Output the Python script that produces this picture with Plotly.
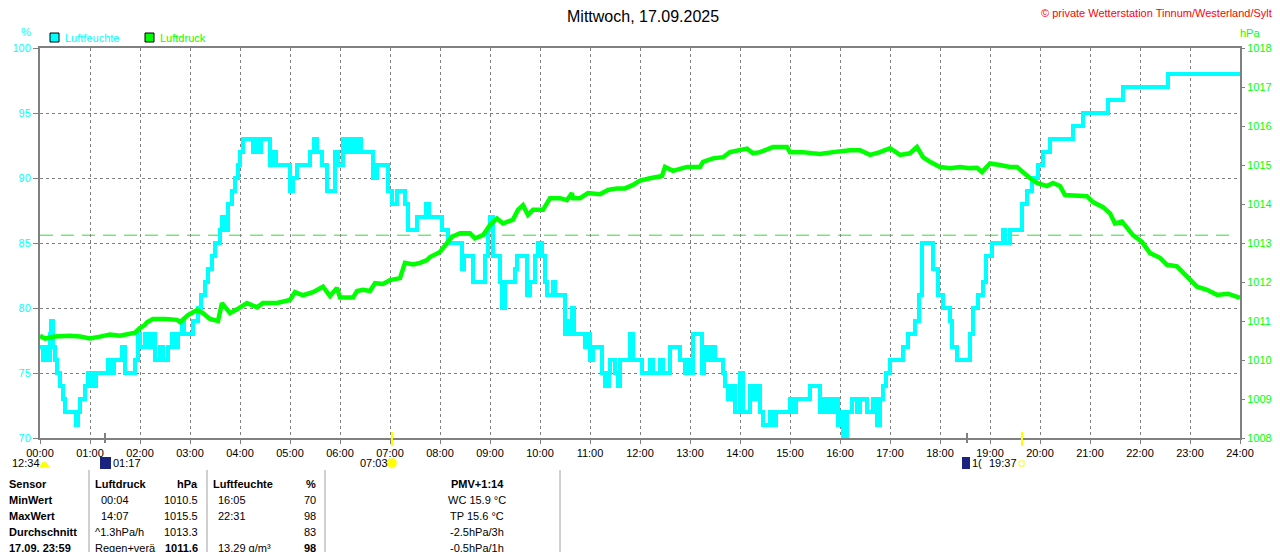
import plotly.graph_objects as go

# Luftfeuchte (%), Stufenverlauf: Stunde, Wert
hum_h = [0.0, 0.06, 0.1, 0.14, 0.2, 0.22, 0.26, 0.3, 0.34, 0.4, 0.46, 0.5, 0.72, 0.76, 0.8, 0.9,
         0.96, 1.0, 1.04, 1.08, 1.12, 1.24, 1.36, 1.44, 1.48, 1.64, 1.7, 1.9, 1.96, 2.0, 2.1, 2.16,
         2.22, 2.3, 2.4, 2.46, 2.56, 2.64, 2.72, 2.76, 2.84, 2.88, 3.06, 3.16, 3.22, 3.3, 3.36, 3.44,
         3.5, 3.6, 3.64, 3.7, 3.76, 3.84, 3.9, 3.96, 4.0, 4.06, 4.26, 4.32, 4.38, 4.42, 4.6, 4.68,
         4.72, 5.0, 5.06, 5.14, 5.4, 5.48, 5.54, 5.64, 5.74, 5.9, 5.96, 6.06, 6.14, 6.2, 6.28, 6.34,
         6.42, 6.66, 6.74, 6.96, 7.04, 7.14, 7.3, 7.36, 7.54, 7.72, 7.78, 8.04, 8.16, 8.44, 8.48,
         8.66, 8.9, 8.96, 9.0, 9.06, 9.2, 9.24, 9.3, 9.5, 9.54, 9.74, 9.8, 9.9, 9.96, 10.04, 10.1,
         10.14, 10.26, 10.3, 10.5, 10.56, 10.62, 10.64, 10.68, 10.9, 10.96, 11.0, 11.06, 11.24,
         11.3, 11.38, 11.4, 11.5, 11.56, 11.6, 11.8, 11.86, 12.04, 12.2, 12.26, 12.4, 12.46, 12.6,
         12.8, 12.9, 12.96, 13.04, 13.06, 13.24, 13.28, 13.36, 13.44, 13.5, 13.66, 13.7, 13.76,
         13.84, 13.9, 14.0, 14.06, 14.2, 14.26, 14.34, 14.4, 14.46, 14.6, 14.66, 14.72, 14.9, 15.0,
         15.06, 15.12, 15.34, 15.4, 15.6, 15.64, 15.7, 15.76, 15.84, 15.9, 15.96, 16.04, 16.06,
         16.14, 16.24, 16.34, 16.4, 16.54, 16.66, 16.74, 16.8, 16.86, 16.92, 17.0, 17.14, 17.26,
         17.36, 17.5, 17.58, 17.64, 17.86, 17.96, 18.06, 18.2, 18.24, 18.34, 18.5, 18.6, 18.66,
         18.76, 18.86, 18.92, 19.04, 19.26, 19.3, 19.4, 19.64, 19.74, 19.84, 19.96, 20.06, 20.2,
         20.66, 20.86, 21.36, 21.66, 22.56, 24.0]
hum_v = [77, 76, 77, 76, 78, 79, 77, 76, 75, 74, 73, 72, 71, 72, 73, 74,
         75, 74, 75, 74, 75, 75, 76, 75, 76, 77, 75, 76, 78, 77, 78, 77,
         78, 76, 77, 76, 77, 78, 77, 78, 79, 78, 79, 80, 81, 82, 83, 84,
         85, 86, 87, 86, 88, 89, 90, 91, 92, 93, 92, 93, 92, 93, 91, 92,
         91, 89, 90, 91, 92, 93, 92, 91, 89, 92, 91, 93, 92, 93, 92, 93,
         92, 90, 91, 89, 88, 89, 88, 86, 87, 88, 87, 86, 85, 83, 84,
         82, 84, 86, 87, 84, 82, 80, 82, 83, 84, 81, 82, 84, 85, 84, 82,
         81, 82, 81, 78, 79, 78, 80, 78, 77, 78, 76, 77, 75,
         74, 75, 76, 75, 74, 76, 78, 76, 75, 76, 75, 76, 75, 77,
         76, 75, 76, 75, 78, 75, 77, 76, 77, 76, 75, 74, 73,
         74, 72, 75, 72, 74, 73, 74, 72, 71, 72, 71, 72, 72, 73,
         72, 73, 73, 74, 72, 73, 72, 73, 72, 73, 71, 72, 70,
         72, 73, 72, 73, 72, 73, 71, 73, 74, 75, 76, 76, 77,
         78, 79, 81, 85, 83, 81, 80, 79, 77, 76, 76, 78, 80,
         81, 82, 84, 85, 86, 85, 86, 88, 89, 90, 91, 92, 93,
         94, 95, 96, 97, 98, 98]

# Luftdruck (hPa)
pres_h = [0.0, 0.1, 0.3, 0.6, 0.8, 1.0, 1.2, 1.4, 1.6, 1.8, 1.9, 2.0, 2.1, 2.14, 2.26, 2.5,
          2.74, 2.8, 2.96, 3.14, 3.26, 3.4, 3.56, 3.64, 3.8, 3.94, 4.14, 4.34, 4.46, 4.74, 5.0,
          5.1, 5.26, 5.46, 5.66, 5.8, 5.94, 6.0, 6.26, 6.34, 6.46, 6.6, 6.7, 6.86, 7.0, 7.2, 7.3,
          7.46, 7.6, 7.74, 7.8, 8.0, 8.14, 8.24, 8.4, 8.6, 8.7, 8.86, 9.0, 9.14, 9.26, 9.46, 9.56,
          9.66, 9.76, 9.86, 10.06, 10.2, 10.4, 10.54, 10.64, 10.66, 10.8, 10.96, 11.2, 11.36,
          11.54, 11.7, 11.86, 12.0, 12.2, 12.34, 12.44, 12.5, 12.66, 12.8, 12.94, 13.2, 13.26,
          13.46, 13.66, 13.8, 14.06, 14.14, 14.26, 14.4, 14.66, 14.94, 15.0, 15.26, 15.44, 15.6,
          15.86, 16.0, 16.2, 16.4, 16.6, 16.8, 17.0, 17.2, 17.4, 17.54, 17.66, 17.8, 18.0, 18.2,
          18.4, 18.6, 18.74, 18.84, 19.0, 19.2, 19.4, 19.54, 19.66, 19.8, 19.94, 20.14, 20.26,
          20.4, 20.5, 20.74, 20.94, 21.06, 21.26, 21.4, 21.5, 21.64, 21.74, 21.86, 22.04, 22.2,
          22.4, 22.54, 22.74, 22.94, 23.14, 23.34, 23.54, 23.76, 24.0]
pres_v = [1010.62, 1010.55, 1010.6, 1010.62, 1010.6, 1010.55, 1010.6, 1010.65, 1010.62, 1010.68,
          1010.7, 1010.82, 1010.9, 1010.97, 1011.05, 1011.05, 1011.03, 1010.97, 1011.15, 1011.28,
          1011.2, 1011.05, 1011.0, 1011.46, 1011.2, 1011.3, 1011.46, 1011.35, 1011.46, 1011.46,
          1011.54, 1011.74, 1011.66, 1011.74, 1011.88, 1011.64, 1011.85, 1011.6, 1011.6, 1011.77,
          1011.8, 1011.77, 1011.97, 1011.95, 1012.05, 1012.1, 1012.49, 1012.45, 1012.49, 1012.56,
          1012.64, 1012.77, 1013.0, 1013.16, 1013.25, 1013.25, 1013.12, 1013.2, 1013.46, 1013.63,
          1013.5, 1013.6, 1013.85, 1013.97, 1013.72, 1013.85, 1013.85, 1014.15, 1014.15, 1014.1,
          1014.28, 1014.15, 1014.15, 1014.28, 1014.25, 1014.36, 1014.4, 1014.4, 1014.49, 1014.6,
          1014.66, 1014.7, 1014.72, 1014.95, 1014.85, 1014.9, 1014.95, 1014.95, 1015.08, 1015.17,
          1015.2, 1015.33, 1015.4, 1015.42, 1015.3, 1015.33, 1015.46, 1015.46, 1015.33, 1015.33,
          1015.3, 1015.28, 1015.33, 1015.36, 1015.38, 1015.38, 1015.26, 1015.33, 1015.43, 1015.26,
          1015.3, 1015.46, 1015.2, 1015.08, 1014.95, 1014.92, 1014.95, 1014.92, 1014.93, 1014.82,
          1015.04, 1015.0, 1014.95, 1014.95, 1014.8, 1014.66, 1014.54, 1014.46, 1014.54, 1014.46,
          1014.23, 1014.22, 1014.2, 1014.05, 1013.92, 1013.76, 1013.5, 1013.55, 1013.41, 1013.2,
          1013.03, 1012.74, 1012.62, 1012.44, 1012.4, 1012.13, 1011.88, 1011.8, 1011.67, 1011.7,
          1011.59]

pres_mean_line = 1013.2

hour_ticks = list(range(0, 25))
hour_labels = [f"{h:02d}:00" for h in hour_ticks]
hum_ticks = [70, 75, 80, 85, 90, 95, 100]
pres_ticks = list(range(1008, 1019))

# Tabelle unter dem Diagramm
table_rows = ["Sensor", "MinWert", "MaxWert", "Durchschnitt", "17.09. 23:59"]
druck_left = ["Luftdruck", "00:04", "14:07", "^1.3hPa/h", "Regen+ver\u00e4"]
druck_right = ["hPa", "1010.5", "1015.5", "1013.3", "1011.6"]
feuchte_left = ["Luftfeuchte", "16:05", "22:31", "", "13.29 g/m\u00b3"]
feuchte_right = ["%", "70", "98", "83", "98"]
extra_col = ["PMV+1:14", "WC 15.9 \u00b0C", "TP 15.6 \u00b0C", "-2.5hPa/3h", "-0.5hPa/1h"]

FONT = "Liberation Sans"
FS = 11
CYAN = "#00FFFF"
GREEN = "#00FF00"
GRAY = "#808080"

# die Seite hat 8px Rand; Figur entsprechend kleiner und verschoben
OFF = 8
W, H = 1280 - OFF, 552 - OFF
L, R, T, B = 40, 1240, 48, 438   # Bildschirm-Pixel der Zeichenflaeche


def px(x):
    return (x - L) / (R - L)


def py(y):
    return (B - y) / (B - T)


fig = go.Figure()

fig.add_trace(go.Scatter(
    x=pres_h, y=pres_v, yaxis="y2", mode="lines",
    line=dict(color=GREEN, width=4.5), name="Luftdruck", hoverinfo="x+y"
))
fig.add_trace(go.Scatter(
    x=hum_h, y=hum_v, mode="lines", line_shape="hv",
    line=dict(color=CYAN, width=4), name="Luftfeuchte", hoverinfo="x+y"
))

shapes = [
    dict(type="line", xref="x", yref="y2", x0=0, x1=23.8, y0=pres_mean_line, y1=pres_mean_line,
         line=dict(color="#33DD33", width=1, dash="13px,8px"), layer="below"),
    # Legende
    dict(type="rect", xref="paper", yref="paper", x0=px(50), x1=px(59), y0=py(42), y1=py(33),
         fillcolor=CYAN, line=dict(color="black", width=1)),
    dict(type="rect", xref="paper", yref="paper", x0=px(145), x1=px(154), y0=py(42), y1=py(33),
         fillcolor=GREEN, line=dict(color="black", width=1)),
    # Mond-/Sonnenmarken an der Zeitachse
    dict(type="line", xref="paper", yref="paper", x0=px(105), x1=px(105), y0=py(433), y1=py(443),
         line=dict(color=GRAY, width=2)),
    dict(type="line", xref="paper", yref="paper", x0=px(392), x1=px(392), y0=py(432), y1=py(446),
         line=dict(color="#FFFF00", width=2)),
    dict(type="line", xref="paper", yref="paper", x0=px(967), x1=px(967), y0=py(433), y1=py(443),
         line=dict(color=GRAY, width=2)),
    dict(type="line", xref="paper", yref="paper", x0=px(1022), x1=px(1022), y0=py(432), y1=py(446),
         line=dict(color="#FFFF00", width=2)),
    # Symbole
    dict(type="path", xref="paper", yref="paper",
         path=f"M {px(40)} {py(467)} Q {px(44)} {py(457)} {px(49)} {py(467)} Z",
         fillcolor="#FFFF00", line=dict(color="#FFFF00", width=1)),
    dict(type="rect", xref="paper", yref="paper", x0=px(100), x1=px(111), y0=py(469), y1=py(457),
         fillcolor="#1A237E", line=dict(width=0)),
    dict(type="circle", xref="paper", yref="paper", x0=px(387), x1=px(397), y0=py(468), y1=py(458),
         fillcolor="#FFFF00", line=dict(color="#FFF59D", width=1)),
    dict(type="rect", xref="paper", yref="paper", x0=px(962), x1=px(970), y0=py(469), y1=py(457),
         fillcolor="#1A237E", line=dict(width=0)),
    dict(type="rect", xref="paper", yref="paper", x0=px(1019), x1=px(1024), y0=py(466), y1=py(461),
         fillcolor="white", line=dict(color="#FFFF00", width=1)),
]

for sx in [89, 207, 325, 560, 1277]:
    shapes.append(dict(type="line", xref="paper", yref="paper", x0=px(sx), x1=px(sx),
                       y0=py(470), y1=py(552), line=dict(color="#A0A0A0", width=1)))

ann = []


def txt(x, y, s, color="black", size=FS, anchor="left", bold=False):
    if bold:
        s = f"<b>{s}</b>"
    ann.append(dict(x=px(x), y=py(y), xref="paper", yref="paper", text=s, showarrow=False,
                    xanchor=anchor, yanchor="middle", font=dict(family=FONT, size=size, color=color)))


txt(643, 16, "Mittwoch, 17.09.2025", size=16, anchor="center")
txt(1274, 13, "\u00a9 private Wetterstation Tinnum/Westerland/Sylt", color="#FF0000", anchor="right")
txt(26, 32, "%", color=CYAN, anchor="center")
txt(1250, 33, "hPa", color=GREEN, anchor="center")
txt(63, 38, "Luftfeuchte", color=CYAN)
txt(158, 38, "Luftdruck", color=GREEN)

txt(10, 463, "12:34")
txt(111, 463, "01:17")
txt(358, 463, "07:03")
txt(970, 463, "1(")
txt(987, 463, "19:37")

row_y = [484, 500, 516, 532, 548]
for i, y in enumerate(row_y):
    txt(7, y, table_rows[i], bold=True)
    txt(93 if i == 0 else 99 if i < 3 else 93, y, druck_left[i], bold=(i == 0))
    txt(200, y, druck_right[i], anchor="right", bold=(i in (0, 4)))
    txt(211 if i == 0 else 216, y, feuchte_left[i], bold=(i == 0))
    txt(318, y, feuchte_right[i], anchor="right", bold=(i in (0, 4)))
    txt(477, y, extra_col[i], anchor="center", bold=(i == 0))

fig.update_layout(
    width=W, height=H,
    margin=dict(l=L - OFF, r=W - (R - OFF), t=T - OFF, b=H - (B - OFF), autoexpand=False),
    paper_bgcolor="white", plot_bgcolor="white",
    showlegend=False,
    font=dict(family=FONT, size=FS),
    xaxis=dict(range=[0, 24], tickvals=hour_ticks, ticktext=hour_labels, automargin=False,
               showgrid=True, gridcolor=GRAY, griddash="3px,3px", gridwidth=1,
               showline=True, linecolor=GRAY, linewidth=2, mirror=True,
               ticks="outside", ticklen=4, tickcolor=GRAY, tickfont=dict(color="black", size=FS),
               zeroline=False),
    yaxis=dict(range=[70, 100], tickvals=hum_ticks, ticktext=[str(v) for v in hum_ticks],
               automargin=False,
               showgrid=True, gridcolor=GRAY, griddash="3px,3px", gridwidth=1,
               showline=True, linecolor=GRAY, linewidth=2, mirror=True,
               ticks="outside", ticklen=5, tickcolor=GRAY, tickfont=dict(color=CYAN, size=FS),
               zeroline=False),
    yaxis2=dict(range=[1008, 1018], tickvals=pres_ticks, ticktext=[str(v) for v in pres_ticks],
                overlaying="y", side="right", showgrid=False, automargin=False,
                ticks="outside", ticklen=4, tickcolor=GRAY, tickfont=dict(color=GREEN, size=FS),
                zeroline=False),
    shapes=shapes,
    annotations=ann,
)

fig.write_html("out.html")
